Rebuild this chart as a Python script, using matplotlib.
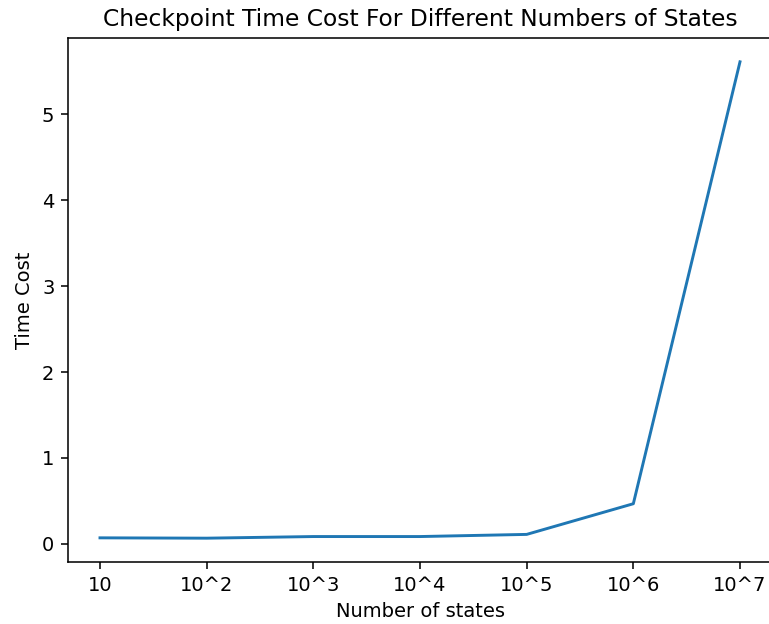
import matplotlib.pyplot as plt

# --- Data ---
state_labels = ["10", "10^2", "10^3", "10^4", "10^5", "10^6", "10^7"]
time_cost = [0.07, 0.066, 0.085, 0.085, 0.11, 0.467, 5.61]

# reference is cropped: right spine sits just past the image edge
fig, ax = plt.subplots(figsize=(769 / 140, 624 / 140), dpi=140)
fig.subplots_adjust(left=68 / 769, right=772 / 769, bottom=1 - 562 / 624, top=1 - 38 / 624)

ax.plot(state_labels, time_cost)
ax.set_title("Checkpoint Time Cost For Different Numbers of States")
ax.set_xlabel("Number of states")
ax.set_ylabel("Time Cost")

fig.savefig("out.png")
